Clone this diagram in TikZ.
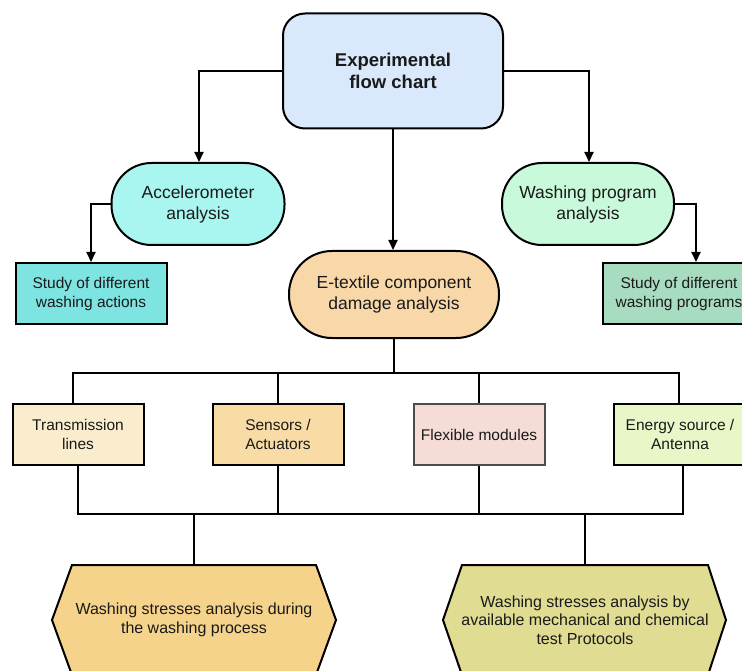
\documentclass[tikz,border=0pt]{standalone}
\usepackage{fontspec}
\setmainfont{Liberation Sans}
\usetikzlibrary{arrows.meta}
\definecolor{cTop}{HTML}{DAE8FC}
\definecolor{cAcc}{HTML}{A9F5EF}
\definecolor{cWash}{HTML}{C8F9DA}
\definecolor{cEtex}{HTML}{F8D7A8}
\definecolor{cStA}{HTML}{7EE4E2}
\definecolor{cStP}{HTML}{A8DCC0}
\definecolor{cTrans}{HTML}{FAEDCD}
\definecolor{cSens}{HTML}{F8DBA5}
\definecolor{cFlex}{HTML}{F5DCD7}
\definecolor{cEn}{HTML}{E9F6C7}
\definecolor{cHexA}{HTML}{F5D38A}
\definecolor{cHexB}{HTML}{E0DC92}
\definecolor{cText}{HTML}{1A1A1A}
\tikzset{
  base/.style={draw=black, line width=2pt, align=center, text=cText, inner sep=0pt},
  topbox/.style={base, rounded corners=22pt, minimum width=220pt, minimum height=115pt, font=\fontsize{18.5}{22}\selectfont\bfseries},
  oval/.style={base, rounded corners=40pt, minimum height=82pt, font=\fontsize{17.5}{21}\selectfont},
  sbox/.style={base, minimum width=151pt, minimum height=61pt, font=\fontsize{15.5}{19}\selectfont},
  cbox/.style={base, minimum width=131pt, minimum height=61pt, font=\fontsize{15.5}{19}\selectfont},
  hexlabel/.style={align=center, text=cText, inner sep=0pt, minimum width=284pt, minimum height=110pt, font=\fontsize{16}{18.5}\selectfont},
  hexshape/.style={draw=black, line width=2pt},
  conn/.style={draw=black, line width=2pt},
  arr/.style={conn, -{Triangle[length=10pt,width=9pt]}},
}
\begin{document}
\begin{tikzpicture}[x=1pt,y=-1pt]
\clip (0,0) rectangle (742,671);
\fill[white] (0,0) rectangle (742,671);

% nodes
\node[topbox, fill=cTop] (top) at (393,71) {Experimental\\flow chart};
\node[oval, fill=cAcc, minimum width=173pt] (acc) at (198,204) {Accelerometer\\analysis};
\node[oval, fill=cWash, minimum width=172pt] (wash) at (588,204) {Washing program\\analysis};
\node[oval, fill=cEtex, minimum width=210pt, minimum height=87pt, rounded corners=43pt] (etex) at (394,294.5) {E-textile component\\damage analysis};
\node[sbox, fill=cStA] (sta) at (91,293.5) {Study of different\\washing actions};
\node[sbox, fill=cStP, minimum width=152pt] (stp) at (679,293.5) {Study of different\\washing programs};

\node[cbox, fill=cTrans] (trans) at (78,434.5) {Transmission\\lines};
\node[cbox, fill=cSens] (sens) at (278,434.5) {Sensors /\\Actuators};
\node[cbox, fill=cFlex, draw=black!70] (flex) at (479,434.5) {Flexible modules};
\node[cbox, fill=cEn, minimum width=132pt] (en) at (680,434.5) {Energy source /\\Antenna};

% hexagons
\filldraw[hexshape, fill=cHexA] (72,565) -- (316,565) -- (336,620) -- (316,675) -- (72,675) -- (52,620) -- cycle;
\node[hexlabel] (h1) at (194,620) {Washing stresses analysis during\\the washing process};
\filldraw[hexshape, fill=cHexB] (462,565) -- (708,565) -- (726,620) -- (708,675) -- (462,675) -- (443,620) -- cycle;
\node[hexlabel, minimum width=283pt] (h2) at (585,620) {Washing stresses analysis by\\available mechanical and chemical\\test Protocols};

% arrows top part
\draw[arr] (top.west) -| ([xshift=1pt]acc.north);
\draw[arr] (top.east) -| ([xshift=1pt]wash.north);
\draw[arr] (top.south) -- (top.south |- etex.north);
\draw[arr] (acc.west) -| (sta.north);
\draw[arr] (wash.east) -| ([xshift=17pt]stp.north);

% upper bus
\coordinate (busU) at (0,373);
\draw[conn] (etex.south) -- (etex.south |- busU);
\draw[conn] ([xshift=-5pt]trans.north) -- ([xshift=-5pt]trans.north |- busU) -| ([xshift=-1pt]en.north);
\draw[conn] (sens.north) -- (sens.north |- busU);
\draw[conn] (flex.north) -- (flex.north |- busU);

% lower bus
\coordinate (busL) at (0,514);
\draw[conn] (trans.south) -- (trans.south |- busL) -| ([xshift=3pt]en.south);
\draw[conn] (sens.south) -- (sens.south |- busL);
\draw[conn] (flex.south) -- (flex.south |- busL);
\draw[conn] (h1.north) -- (h1.north |- busL);
\draw[conn] (h2.north) -- (h2.north |- busL);
\end{tikzpicture}
\end{document}
